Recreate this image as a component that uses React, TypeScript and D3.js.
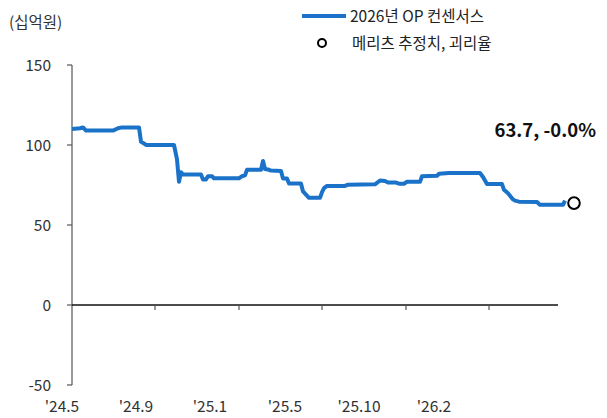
import React, { useRef, useEffect } from "react";
import * as d3 from "d3";

// x positions are trading-day indices from the start of the series
const consIdx = [0, 8, 11, 14, 41, 46, 50, 67, 69, 72, 74, 102, 105, 107, 109, 111, 113, 129, 131, 134, 136, 140, 142, 167, 170, 173, 175, 189, 191, 193, 197, 199, 209, 211, 215, 217, 229, 231, 234, 237, 248, 250, 252, 255, 273, 276, 303, 308, 313, 316, 324, 327, 332, 335, 348, 350, 365, 367, 377, 408, 411, 415, 430, 432, 436, 441, 443, 447, 465, 468, 491, 493];
const consValue = [110, 110.5, 111, 109, 109, 110.5, 111, 111, 102, 101, 100, 100, 91, 77, 83, 81.5, 81.5, 81.5, 78.5, 78.5, 80.5, 80.5, 79.2, 79.2, 80.5, 81, 84.5, 84.5, 90, 85, 84.5, 84, 83.8, 79, 79, 76, 76, 71, 69, 67, 67, 70.5, 73, 74.4, 74.4, 75.2, 75.4, 77.8, 77.5, 76.5, 76.5, 75.8, 75.8, 77, 77, 80.5, 80.8, 82, 82.5, 82.5, 80, 75.6, 75.6, 72, 69.8, 66, 65.2, 64.6, 64.4, 62.6, 62.6, 65.2];

const estIdx = [502];
const estValue = [63.7];
const estLabel = "63.7, -0.0%";

const yTicks = [-50, 0, 50, 100, 150];
const xTickIdx = [83, 167, 250, 334, 417];
const xLabelIdx = [0, 74, 148, 223, 297, 372];
const xLabels = ["'24.5", "'24.9", "'25.1", "'25.5", "'25.10", "'26.2"];

const unitLabel = "(십억원)";
const legendLine = "2026년 OP 컨센서스";
const legendDot = "메리츠 추정치, 괴리율";

const font = "'Noto Sans CJK KR', 'Noto Sans', sans-serif";
const blue = "#1a72c9";

const App = () => {
  const svgRef = useRef<SVGSVGElement>(null);

  useEffect(() => {
    const svg = d3.select(svgRef.current);
    svg.selectAll("*").remove();

    const x = d3.scaleLinear().domain([0, 500]).range([72, 572]);
    const y = d3.scaleLinear().domain([-50, 150]).range([385, 65]);

    // y axis
    svg.append("line")
      .attr("x1", x(0)).attr("x2", x(0))
      .attr("y1", y(150)).attr("y2", y(-50))
      .attr("stroke", "#555").attr("stroke-width", 1.2);

    svg.selectAll(".ytick")
      .data(yTicks)
      .enter()
      .append("line")
      .attr("x1", x(0) - 5).attr("x2", x(0))
      .attr("y1", d => y(d)).attr("y2", d => y(d))
      .attr("stroke", "#555").attr("stroke-width", 1.2);

    svg.selectAll(".ylab")
      .data(yTicks)
      .enter()
      .append("text")
      .attr("x", 51)
      .attr("y", d => y(d) + 5.5)
      .attr("text-anchor", "end")
      .attr("font-family", font)
      .attr("font-size", 15.5)
      .attr("fill", "#333")
      .text(d => d);

    // zero line + ticks
    svg.append("line")
      .attr("x1", x(0)).attr("x2", x(486))
      .attr("y1", y(0)).attr("y2", y(0))
      .attr("stroke", "#111").attr("stroke-width", 1.3);

    svg.selectAll(".xtick")
      .data(xTickIdx)
      .enter()
      .append("line")
      .attr("x1", d => x(d)).attr("x2", d => x(d))
      .attr("y1", y(0)).attr("y2", y(0) + 5)
      .attr("stroke", "#555").attr("stroke-width", 1.2);

    svg.selectAll(".xlab")
      .data(xLabelIdx)
      .enter()
      .append("text")
      .attr("x", d => x(d) - 10)
      .attr("y", 412)
      .attr("text-anchor", "middle")
      .attr("font-family", font)
      .attr("font-size", 15.5)
      .attr("fill", "#333")
      .text((d, i) => xLabels[i]);

    // consensus line
    const line = d3.line<number>()
      .x((d, i) => x(consIdx[i]))
      .y(d => y(d));

    svg.append("path")
      .datum(consValue)
      .attr("d", line)
      .attr("fill", "none")
      .attr("stroke", blue)
      .attr("stroke-width", 4)
      .attr("stroke-linejoin", "round");

    // Meritz estimate
    svg.selectAll(".est")
      .data(estValue)
      .enter()
      .append("circle")
      .attr("cx", (d, i) => x(estIdx[i]))
      .attr("cy", d => y(d))
      .attr("r", 5.8)
      .attr("fill", "white")
      .attr("stroke", "black")
      .attr("stroke-width", 2);

    svg.append("text")
      .attr("x", 596)
      .attr("y", 137)
      .attr("text-anchor", "end")
      .attr("font-family", font)
      .attr("font-size", 18.5)
      .attr("font-weight", "bold")
      .attr("fill", "#111")
      .text(estLabel);

    // unit
    svg.append("text")
      .attr("x", 9)
      .attr("y", 28)
      .attr("font-family", font)
      .attr("font-size", 15.5)
      .attr("fill", "#333")
      .text(unitLabel);

    // legend
    svg.append("line")
      .attr("x1", 302).attr("x2", 346)
      .attr("y1", 16).attr("y2", 16)
      .attr("stroke", blue).attr("stroke-width", 4);

    svg.append("text")
      .attr("x", 350)
      .attr("y", 22)
      .attr("font-family", font)
      .attr("font-size", 15.5)
      .attr("fill", "#222")
      .text(legendLine);

    svg.append("circle")
      .attr("cx", 322).attr("cy", 43).attr("r", 4)
      .attr("fill", "white")
      .attr("stroke", "black")
      .attr("stroke-width", 2);

    svg.append("text")
      .attr("x", 352)
      .attr("y", 49)
      .attr("font-family", font)
      .attr("font-size", 15.5)
      .attr("fill", "#222")
      .text(legendDot);
  }, []);

  return (
    <svg
      ref={svgRef}
      width={607}
      height={418}
      style={{ position: "absolute", left: 0, top: 0, background: "white" }}
    ></svg>
  );
};

export default App;
